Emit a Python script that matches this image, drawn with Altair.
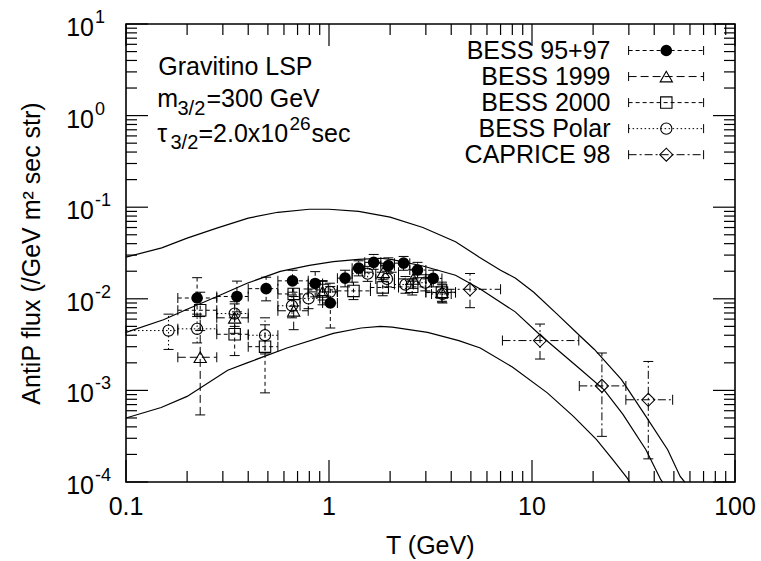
import altair as alt
import pandas as pd

# ---------------- data ----------------
# model curves: kinetic energy T (GeV) and antiproton flux
top_T = [0.1, 0.15, 0.2, 0.28, 0.4, 0.56, 0.8, 1.0, 1.4, 2.0, 2.9, 4.2, 5.5, 7.0, 8.3, 10.2, 13.3, 17.3, 20.3, 27.6, 36.4, 46.6, 53.7, 56.5]
top_F = [0.0285, 0.036, 0.046, 0.059, 0.076, 0.088, 0.095, 0.095, 0.090, 0.078, 0.060, 0.042, 0.0285, 0.0205, 0.0168, 0.0118, 0.0068, 0.0039, 0.0028, 0.00131, 0.00052, 0.000225, 0.000115, 0.0001]

mid_T = [0.1, 0.153, 0.2, 0.27, 0.395, 0.575, 0.8, 1.05, 1.4, 1.8, 2.05, 2.9, 4.2, 5.56, 8.27, 11.0, 17.3, 22.6, 28.0, 36.4, 43.1, 44.0]
mid_F = [0.0043, 0.0059, 0.0077, 0.0102, 0.0148, 0.0199, 0.0232, 0.0255, 0.0270, 0.0277, 0.0268, 0.0228, 0.0181, 0.0128, 0.0072, 0.0040, 0.0017, 0.00102, 0.00055, 0.000225, 0.000106, 0.0001]

bot_T = [0.1, 0.149, 0.2, 0.317, 0.395, 0.62, 1.05, 1.44, 1.79, 2.05, 3.06, 4.36, 5.56, 8.0, 11.9, 16.0, 20.8, 25.0, 29.4, 30.3]
bot_F = [0.00050, 0.00065, 0.00086, 0.00166, 0.0020, 0.0029, 0.0042, 0.0048, 0.0050, 0.0049, 0.0043, 0.0035, 0.0029, 0.0018, 0.00094, 0.00052, 0.00029, 0.000175, 0.000111, 0.0001]

# BESS 95+97
b95_T = [0.224, 0.352, 0.49, 0.661, 0.855, 1.015, 1.20, 1.40, 1.66, 1.96, 2.33, 2.73, 3.26]
b95_F = [0.0102, 0.0106, 0.0129, 0.0157, 0.0147, 0.0090, 0.0168, 0.0216, 0.0250, 0.0230, 0.0245, 0.0206, 0.0167]
b95_Flo = [0.0064, 0.0072, 0.0095, 0.0118, 0.0105, 0.0048, 0.0135, 0.0178, 0.0210, 0.0190, 0.0205, 0.0170, 0.0135]
b95_Fhi = [0.0170, 0.0156, 0.0172, 0.0205, 0.0198, 0.0136, 0.0205, 0.0260, 0.0305, 0.0280, 0.0290, 0.0250, 0.0205]
b95_Tlo = [0.18, 0.28, 0.40, 0.56, 0.79, 0.93, 1.1, 1.3, 1.5, 1.8, 2.1, 2.5, 3.0]
b95_Thi = [0.28, 0.40, 0.56, 0.79, 0.93, 1.1, 1.3, 1.5, 1.8, 2.1, 2.5, 3.0, 3.6]

# BESS 1999
b99_T = [0.232, 0.343, 0.67, 0.93, 1.85, 2.6, 3.6]
b99_F = [0.0023, 0.0062, 0.0074, 0.0119, 0.0195, 0.0165, 0.0118]
b99_Flo = [0.00054, 0.0042, 0.0046, 0.0086, 0.0155, 0.0130, 0.0092]
b99_Fhi = [0.0064, 0.0088, 0.0106, 0.0155, 0.0245, 0.0210, 0.0152]
b99_Tlo = [0.18, 0.28, 0.56, 0.79, 1.5, 2.2, 3.0]
b99_Thi = [0.28, 0.40, 0.79, 1.1, 2.2, 3.0, 4.2]

# BESS 2000
b00_T = [0.232, 0.343, 0.484, 0.67, 0.93, 1.32, 1.84, 2.57, 3.6]
b00_F = [0.0075, 0.0041, 0.0030, 0.0113, 0.0125, 0.0122, 0.0133, 0.0135, 0.0117]
b00_Flo = [0.0045, 0.0024, 0.00094, 0.0083, 0.0097, 0.0098, 0.0108, 0.0110, 0.0094]
b00_Fhi = [0.0118, 0.0067, 0.0052, 0.0148, 0.0158, 0.0152, 0.0163, 0.0165, 0.0145]
b00_Tlo = [0.18, 0.28, 0.40, 0.56, 0.79, 1.1, 1.6, 2.2, 3.0]
b00_Thi = [0.28, 0.40, 0.56, 0.79, 1.1, 1.6, 2.2, 3.0, 4.2]

# BESS Polar
bp_T = [0.162, 0.224, 0.343, 0.484, 0.657, 0.793, 1.01, 1.55, 1.93, 2.38, 2.98, 3.62]
bp_F = [0.0045, 0.0047, 0.0069, 0.0040, 0.0084, 0.0101, 0.0119, 0.0188, 0.0165, 0.0143, 0.0150, 0.0113]
bp_Flo = [0.0028, 0.0033, 0.0050, 0.0025, 0.0062, 0.0078, 0.0095, 0.0155, 0.0135, 0.0115, 0.0122, 0.0090]
bp_Fhi = [0.0068, 0.0068, 0.0093, 0.0062, 0.0110, 0.0128, 0.0148, 0.0226, 0.0200, 0.0175, 0.0183, 0.0142]
bp_Tlo = [0.10, 0.18, 0.28, 0.40, 0.56, 0.72, 0.9, 1.3, 1.7, 2.1, 2.6, 3.2]
bp_Thi = [0.18, 0.28, 0.40, 0.56, 0.72, 0.9, 1.1, 1.7, 2.1, 2.6, 3.2, 4.0]

# CAPRICE 98
cap_T = [4.95, 10.95, 22.1, 37.4]
cap_F = [0.0127, 0.00350, 0.00112, 0.00079]
cap_Flo = [0.0080, 0.00220, 0.000315, 0.000179]
cap_Fhi = [0.0189, 0.00530, 0.00256, 0.00207]
cap_Tlo = [3.8, 7.15, 17.1, 29.0]
cap_Thi = [7.0, 17.0, 29.0, 49.3]

legend_labels = ["BESS 95+97", "BESS 1999", "BESS 2000", "BESS Polar", "CAPRICE 98"]

x_major = [0.1, 1, 10, 100]
x_major_labels = ["0.1", "1", "10", "100"]
x_minor = [0.2, 0.3, 0.4, 0.5, 0.6, 0.7, 0.8, 0.9,
           2, 3, 4, 5, 6, 7, 8, 9,
           20, 30, 40, 50, 60, 70, 80, 90]
y_major = [1e-4, 1e-3, 1e-2, 1e-1, 1, 10]
y_major_exp = ["-4", "-3", "-2", "-1", "0", "1"]
y_minor = [k * 10.0 ** n for n in range(-4, 1) for k in range(2, 10)]

# ---------------- chart ----------------
W, H = 609, 458
FONT = "Liberation Sans"
xs = alt.Scale(type="log", domain=[0.1, 100], nice=False)
ys = alt.Scale(type="log", domain=[1e-4, 10], nice=False)


def X(f):
    return alt.X(f, scale=xs, axis=None)


def Y(f):
    return alt.Y(f, scale=ys, axis=None)


layers = []

curves = pd.concat([
    pd.DataFrame({"T": top_T, "F": top_F, "curve": "upper"}),
    pd.DataFrame({"T": mid_T, "F": mid_F, "curve": "middle"}),
    pd.DataFrame({"T": bot_T, "F": bot_F, "curve": "lower"}),
])
layers.append(alt.Chart(curves).mark_line(color="black", strokeWidth=1.2).encode(
    x=X("T:Q"), y=Y("F:Q"), detail="curve:N"))

series = [
    dict(T=b95_T, F=b95_F, Flo=b95_Flo, Fhi=b95_Fhi, Tlo=b95_Tlo, Thi=b95_Thi,
         shape="circle", filled=True, size=135, dash=[4, 3]),
    dict(T=b99_T, F=b99_F, Flo=b99_Flo, Fhi=b99_Fhi, Tlo=b99_Tlo, Thi=b99_Thi,
         shape="triangle-up", filled=False, size=150, dash=[8, 4]),
    dict(T=b00_T, F=b00_F, Flo=b00_Flo, Fhi=b00_Fhi, Tlo=b00_Tlo, Thi=b00_Thi,
         shape="square", filled=False, size=130, dash=[4, 3]),
    dict(T=bp_T, F=bp_F, Flo=bp_Flo, Fhi=bp_Fhi, Tlo=bp_Tlo, Thi=bp_Thi,
         shape="circle", filled=False, size=125, dash=[1.5, 2.5]),
    dict(T=cap_T, F=cap_F, Flo=cap_Flo, Fhi=cap_Fhi, Tlo=cap_Tlo, Thi=cap_Thi,
         shape="diamond", filled=False, size=170, dash=[8, 3, 2, 3]),
]

bars, points = [], []
for s in series:
    df = pd.DataFrame({k: s[k] for k in ["T", "F", "Flo", "Fhi", "Tlo", "Thi"]})
    base = alt.Chart(df)
    bars.append(base.mark_rule(color="black", strokeWidth=1, strokeDash=s["dash"]).encode(
        x=X("T:Q"), y=Y("Flo:Q"), y2="Fhi:Q"))
    bars.append(base.mark_rule(color="black", strokeWidth=1, strokeDash=s["dash"]).encode(
        x=X("Tlo:Q"), x2="Thi:Q", y=Y("F:Q")))
    for col in ["Flo", "Fhi"]:
        bars.append(base.mark_tick(orient="horizontal", size=10, thickness=1, color="black", opacity=1).encode(
            x=X("T:Q"), y=Y(col + ":Q")))
    for col in ["Tlo", "Thi"]:
        bars.append(base.mark_tick(orient="vertical", size=10, thickness=1, color="black", opacity=1).encode(
            x=X(col + ":Q"), y=Y("F:Q")))
    points.append(base.mark_point(shape=s["shape"], filled=s["filled"], size=s["size"],
                                  color="black", strokeWidth=1.1, opacity=1).encode(
        x=X("T:Q"), y=Y("F:Q")))

layers += bars + points

# legend (drawn by hand, like the original)
for i, (lab, s) in enumerate(zip(legend_labels, series)):
    yy = 26.5 + 26.05 * i
    layers.append(alt.Chart().mark_text(text=lab, font=FONT, fontSize=25, align="right",
                                        baseline="middle", color="black").encode(
        x=alt.value(484.5), y=alt.value(yy)))
    layers.append(alt.Chart().mark_rule(color="black", strokeWidth=1, strokeDash=s["dash"]).encode(
        x=alt.value(502.6), x2=alt.value(577.6), y=alt.value(yy)))
    for xx in [502.6, 577.6]:
        layers.append(alt.Chart().mark_rule(color="black", strokeWidth=1).encode(
            x=alt.value(xx), y=alt.value(yy - 4.5), y2=alt.value(yy + 4.5)))
    layers.append(alt.Chart().mark_point(shape=s["shape"], filled=s["filled"], size=s["size"],
                                         color="black", strokeWidth=1.1, opacity=1).encode(
        x=alt.value(540.3), y=alt.value(yy)))

# inward ticks on all four sides
def tick_layers(vals, length, axis):
    df = pd.DataFrame({"v": vals})
    b = alt.Chart(df).mark_rule(color="black", strokeWidth=1.2)
    if axis == "x":
        return [b.encode(x=X("v:Q"), y=alt.value(H), y2=alt.value(H - length)),
                b.encode(x=X("v:Q"), y=alt.value(0), y2=alt.value(length))]
    return [b.encode(y=Y("v:Q"), x=alt.value(0), x2=alt.value(length)),
            b.encode(y=Y("v:Q"), x=alt.value(W), x2=alt.value(W - length))]

layers += tick_layers(x_major, 22, "x") + tick_layers(x_minor, 11, "x")
layers += tick_layers(y_major, 22, "y") + tick_layers(y_minor, 11, "y")

# tick labels
xl = pd.DataFrame({"v": x_major, "lab": x_major_labels})
layers.append(alt.Chart(xl).mark_text(font=FONT, fontSize=25, align="center", baseline="middle",
                                      color="black").encode(
    x=X("v:Q"), y=alt.value(483), text="lab:N"))
yl = pd.DataFrame({"v": y_major, "exp": y_major_exp})
layers.append(alt.Chart(yl).mark_text(text="10", font=FONT, fontSize=25, align="right",
                                      baseline="middle", dy=4, color="black").encode(
    x=alt.value(-32), y=Y("v:Q")))
layers.append(alt.Chart(yl).mark_text(font=FONT, fontSize=18, align="left",
                                      baseline="middle", dy=-6, color="black").encode(
    x=alt.value(-31), y=Y("v:Q"), text="exp:N"))

# axis titles
layers.append(alt.Chart().mark_text(text="T (GeV)", font=FONT, fontSize=25, align="center",
                                    baseline="middle", color="black").encode(
    x=alt.value(304.3), y=alt.value(522)))
layers.append(alt.Chart().mark_text(text="AntiP flux (/GeV m\u00b2 sec str)", font=FONT, fontSize=25,
                                    align="center", baseline="middle", angle=270, color="black").encode(
    x=alt.value(-93.7), y=alt.value(229.5)))

# annotation with sub/superscripts
pieces = [
    ("Gravitino LSP", 32.3, 43.0, 25),
    ("m", 31.3, 75.2, 25),
    ("3/2", 51.5, 85.2, 20),
    ("=300 GeV", 80.5, 75.2, 25),
    ("\u03c4", 31.3, 110.2, 25),
    ("3/2", 44.5, 119.3, 20),
    ("=2.0x10", 72.5, 110.2, 25),
    ("26", 163.5, 100.2, 19),
    ("sec", 185.5, 110.2, 25),
]
for txt, px, py, fs in pieces:
    layers.append(alt.Chart().mark_text(text=txt, font=FONT, fontSize=fs, align="left",
                                        baseline="middle", color="black").encode(
        x=alt.value(px), y=alt.value(py)))

chart = alt.layer(*layers).properties(
    width=W, height=H,
    autosize=alt.AutoSizeParams(type="none"),
    padding={"left": 126, "top": 24, "right": 26, "bottom": 79},
    background="white",
).configure_view(stroke="black", strokeWidth=1.6)

chart.save("out.html", embed_options={"renderer": "svg", "actions": False})
